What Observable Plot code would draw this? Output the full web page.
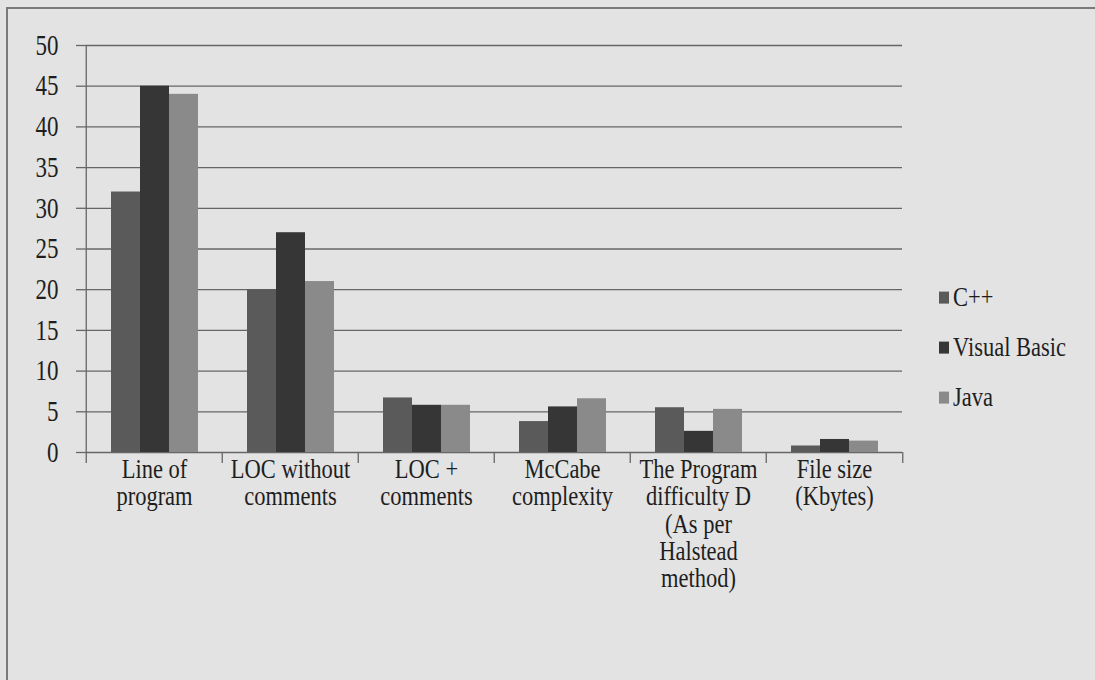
<!DOCTYPE html>
<html>
<head>
<meta charset="utf-8">
<script src="https://cdn.jsdelivr.net/npm/d3@7"></script>
<script src="https://cdn.jsdelivr.net/npm/@observablehq/plot@0.6"></script>
<style>
  html, body { margin: 0; padding: 0; background: #e3e3e3; }
  #wrap { position: relative; width: 1095px; height: 680px; overflow: hidden; background: #e3e3e3; }
  #frame { position: absolute; left: 6px; top: 7px; right: -10px; bottom: -10px;
           border-left: 2px solid #7a7a7a; border-top: 2px solid #7a7a7a; }
  #chart { position: absolute; left: 0; top: 0; }
  #legend { position: absolute; left: 939px; top: 287px; }
  #legend .lg-swatch { padding-bottom: 24px !important; margin: 0 !important;
                       transform: scaleY(1.2); transform-origin: left center; }
  #legend svg { margin-right: 4px !important; }
</style>
</head>
<body>
<div id="wrap">
  <div id="frame"></div>
  <div id="chart"></div>
  <div id="legend"></div>
</div>
<script>
// Software metrics compared across three implementation languages
const categories = [
  "Line of\nprogram",
  "LOC without\ncomments",
  "LOC +\ncomments",
  "McCabe\ncomplexity",
  "The Program\ndifficulty D\n(As per\nHalstead\nmethod)",
  "File size\n(Kbytes)"
];
const series = ["C++", "Visual Basic", "Java"];
const cppValues  = [32, 20, 6.7, 3.8, 5.5, 0.8];
const vbValues   = [45, 27, 5.8, 5.6, 2.6, 1.6];
const javaValues = [44, 21, 5.8, 6.6, 5.3, 1.4];
const yTicks = [0, 5, 10, 15, 20, 25, 30, 35, 40, 45, 50];
const colors = ["#5a5a5a", "#363636", "#8a8a8a"];

const seriesValues = [cppValues, vbValues, javaValues];
const rows = categories.flatMap((c, i) =>
  series.map((s, j) => ({category: c, series: s, value: seriesValues[j][i]}))
);

const W = 1095, H = 680;
const mL = 84, mR = 192, mT = 45, mB = 228;
const step = (W - mL - mR) / categories.length;
const innerH = H - mT - mB;
const font = "'Liberation Serif', 'Times New Roman', serif";
const ink = "#1e1e1e", rule = "#666666";
const stretch = 1.25; // tall, narrow lettering

const plot = Plot.plot({
  width: W,
  height: H,
  marginTop: mT,
  marginBottom: mB,
  marginLeft: mL,
  marginRight: mR,
  style: {background: "transparent", fontFamily: font, fontSize: "22.5px", color: ink},
  fx: {domain: categories, padding: 0, label: null, axis: null},
  x: {domain: series, paddingInner: 0, paddingOuter: 0.775, axis: null},
  y: {domain: [0, 50], label: null, axis: null},
  color: {domain: series, range: colors},
  marks: [
    Plot.ruleY(yTicks, {stroke: rule, strokeWidth: 1.3}),
    Plot.barY(rows, {fx: "category", x: "series", y: "value", fill: "series"}),
    Plot.axisY({ticks: yTicks, tickSize: 10, tickPadding: 18,
                stroke: rule, strokeWidth: 1.3, fill: ink, fontSize: 23, label: null}),
    Plot.axisFx({anchor: "bottom", tickSize: 0, tickPadding: 5, lineHeight: 0.97, fontSize: 22.5,
                 fill: ink, label: null}),
    // category boundary ticks below the baseline
    Plot.axisFx({anchor: "bottom", text: null, tickSize: 11, dx: -step / 2,
                 stroke: rule, strokeWidth: 1.3, label: null}),
    Plot.axisFx({anchor: "bottom", ticks: [categories[categories.length - 1]], text: null, tickSize: 11,
                 dx: step / 2, stroke: rule, strokeWidth: 1.3, label: null}),
    // vertical value axis line
    Plot.axisFx({anchor: "bottom", ticks: [categories[0]], text: null, tickSize: -innerH,
                 dx: -step / 2, stroke: rule, strokeWidth: 1.3, label: null})
  ]
});
document.getElementById("chart").appendChild(plot);

// Stretch tick labels vertically: y labels about their centre, category labels about their top.
function stretchText(selector, anchorTop) {
  plot.querySelectorAll(selector).forEach((t) => {
    const g = document.createElementNS("http://www.w3.org/2000/svg", "g");
    t.parentNode.insertBefore(g, t);
    g.appendChild(t);
    const b = g.getBBox();
    const cy = anchorTop ? b.y : b.y + b.height / 2;
    g.setAttribute("transform", `translate(0,${cy}) scale(1,${stretch}) translate(0,${-cy})`);
  });
}
stretchText('g[aria-label="y-axis tick label"] text', false);
stretchText('g[aria-label="fx-axis tick label"] text', true);

const legend = plot.legend("color", {
  columns: 1,
  swatchSize: 10,
  className: "lg",
  style: {fontFamily: font, fontSize: "22.5px", color: ink, background: "transparent"}
});
document.getElementById("legend").appendChild(legend);
</script>
</body>
</html>
